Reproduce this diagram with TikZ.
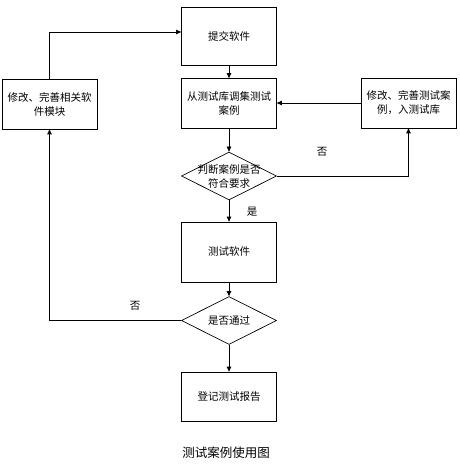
\documentclass[tikz,border=0pt]{standalone}
\usepackage{fontspec}
\setmainfont{Noto Sans CJK SC}
\usetikzlibrary{shapes.geometric,arrows.meta}

\begin{document}
\begin{tikzpicture}[x=1pt,y=-1pt,
  box/.style={draw, line width=0.7pt, minimum width=95pt, minimum height=50pt,
    inner sep=0pt, align=center, font=\fontsize{10.5}{14}\selectfont},
  choice/.style={draw, diamond, line width=0.7pt, minimum width=95pt, minimum height=48pt,
    inner sep=0pt},
  flow/.style={line width=0.7pt, -{Triangle[length=5pt,width=4.5pt]}},
  tag/.style={font=\fontsize{10.5}{14}\selectfont}]

\useasboundingbox (0,0) rectangle (459,470);

\node [box, minimum height=58pt] (submit) at (229,36) {提交软件};
\node [box] (fetch) at (229,103.5) {从测试库调集测试\\案例};
\node [box] (fixsoft) at (49.5,104) {修改、完善相关软\\件模块};
\node [box] (fixcase) at (408.5,103) {修改、完善测试案\\例，入测试库};
\node [choice, label={[tag, align=center]center:判断案例是否\\符合要求}] (check) at (229,176) {};
\node [box, minimum height=60pt] (test) at (229,252) {测试软件};
\node [choice, label={[tag]center:是否通过}] (pass) at (229,320.5) {};
\node [box, minimum height=49pt] (report) at (229,396.5) {登记测试报告};

\draw [flow] (submit) -- (fetch);
\draw [flow] (fetch) -- (check);
\draw [flow] (check) -- (test);
\draw [flow] (test) -- (pass);
\draw [flow] (pass) -- (report);
\draw [flow] (check.east) -| (fixcase.south);
\draw [flow] (fixcase.west) -- (fetch.east |- fixcase.west);
\draw [flow] (pass.west) -| (fixsoft.south);
\draw [flow] (fixsoft.north) |- ([yshift=4pt]submit.west);

\node [tag] (yes) at (252,212) {是};
\node [tag] (nocase) at (322,152) {否};
\node [tag] (nopass) at (135,306) {否};

\node [font=\fontsize{12.5}{15}\selectfont] (caption) at (226,453) {测试案例使用图};

\end{tikzpicture}
\end{document}
